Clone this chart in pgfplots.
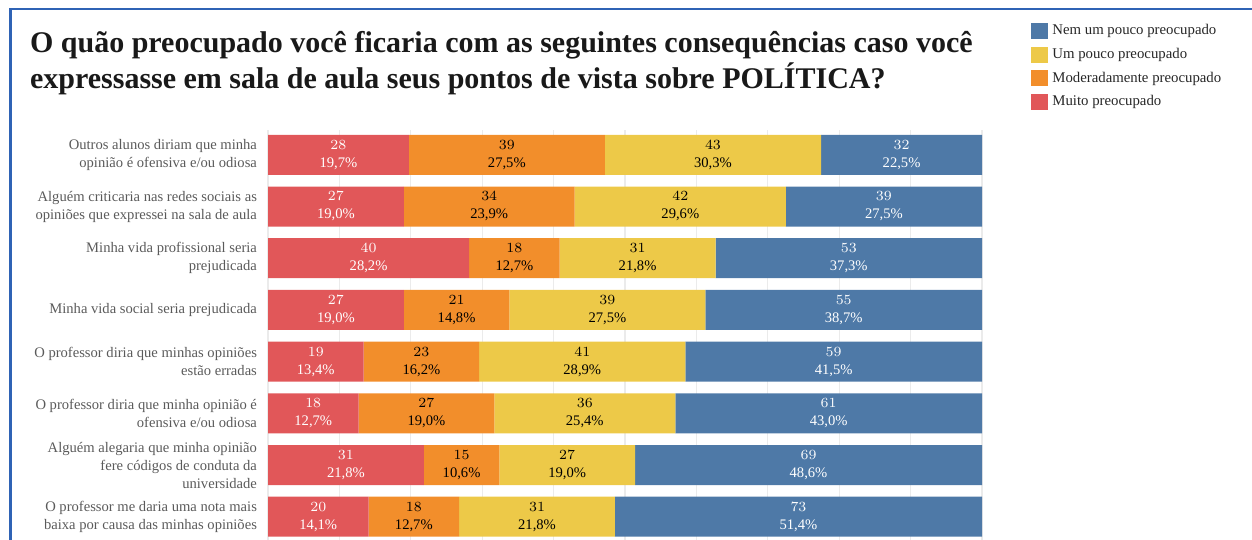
\documentclass[border=0pt]{standalone}
\usepackage{fontspec}
\setmainfont{Liberation Serif}
\usepackage{pgfplots}
\usepackage{pgfplotstable}
\pgfplotsset{compat=1.18}

\definecolor{cmuito}{HTML}{E15759}
\definecolor{cmod}{HTML}{F28E2B}
\definecolor{cpouco}{HTML}{EDC948}
\definecolor{cnem}{HTML}{4E79A7}
\definecolor{frameblue}{HTML}{2F63B5}
\definecolor{labgray}{HTML}{5A5A5A}
\definecolor{gridgray}{HTML}{EBEBEB}

% counts and shares (total 142 answers per row)
\pgfplotstableread{
row muito muitop mod modp pouco poucop nem nemp
0 28 19,7 39 27,5 43 30,3 32 22,5
1 27 19,0 34 23,9 42 29,6 39 27,5
2 40 28,2 18 12,7 31 21,8 53 37,3
3 27 19,0 21 14,8 39 27,5 55 38,7
4 19 13,4 23 16,2 41 28,9 59 41,5
5 18 12,7 27 19,0 36 25,4 61 43,0
6 31 21,8 15 10,6 27 19,0 69 48,6
7 20 14,1 18 12,7 31 21,8 73 51,4
}\resp

\pgfplotsset{
  seg/.style n args={2}{
    fill=#1, draw=none,
    point meta=explicit symbolic,
    visualization depends on=rawx\as\cnt,
    nodes near coords={\pgfmathprintnumber{\cnt}\\\pgfplotspointmeta\%},
    every node near coord/.style={anchor=center, align=center, text=#2,
      font=\fontsize{7.3}{9}\selectfont},
  },
}

\begin{document}
\begin{tikzpicture}
\path[use as bounding box] (0,0) rectangle (626pt,-270pt);
\draw[frameblue, line width=1.3pt] (5.2pt,-272pt) -- (5.2pt,-4.5pt) -- (628pt,-4.5pt);
\node[anchor=north west, align=left, text=black!90,
  font=\fontsize{15}{18}\selectfont\bfseries] at (11.5pt,-12pt)
  {O quão preocupado você ficaria com as seguintes consequências caso você\\
   expressasse em sala de aula seus pontos de vista sobre POLÍTICA?};

\begin{axis}[
  at={(134pt,-65pt)}, anchor=north west,
  scale only axis, width=357pt, height=205pt,
  xbar stacked, bar width=20pt,
  xmin=0, xmax=142, ymin=-0.48, ymax=7.45, y dir=reverse,
  xtick={0,14.2,...,140}, xticklabels={},
  xmajorgrids, grid style={gridgray, line width=0.6pt},
  ytick={0,...,7},
  yticklabels={
    {Outros alunos diriam que minha\\opinião é ofensiva e/ou odiosa},
    {Alguém criticaria nas redes sociais as\\opiniões que expressei na sala de aula},
    {Minha vida profissional seria\\prejudicada},
    {Minha vida social seria prejudicada},
    {O professor diria que minhas opiniões\\estão erradas},
    {O professor diria que minha opinião é\\ofensiva e/ou odiosa},
    {Alguém alegaria que minha opinião\\fere códigos de conduta da\\universidade},
    {O professor me daria uma nota mais\\baixa por causa das minhas opiniões}},
  yticklabel style={align=right, text=labgray, font=\fontsize{7.3}{9}\selectfont, xshift=-2pt},
  axis line style={draw=none}, major tick length=0pt,
  clip=false,
  reverse legend,
  legend cell align=left,
  legend style={at={(1.0686,1.268)}, anchor=north west, draw=none, fill=none,
    font=\fontsize{7.4}{9}\selectfont, text=black!85, row sep=1.2pt, inner sep=0pt},
  legend image code/.code={\fill[#1] (0pt,-4pt) rectangle (8.5pt,4pt);},
]
\addplot[seg={cmuito}{white}] table[x=muito, y=row, meta=muitop]{\resp};
\addplot[seg={cmod}{black}] table[x=mod, y=row, meta=modp]{\resp};
\addplot[seg={cpouco}{black}] table[x=pouco, y=row, meta=poucop]{\resp};
\addplot[seg={cnem}{white}] table[x=nem, y=row, meta=nemp]{\resp};
\legend{Muito preocupado, Moderadamente preocupado, Um pouco preocupado, Nem um pouco preocupado}
\end{axis}
\end{tikzpicture}
\end{document}
